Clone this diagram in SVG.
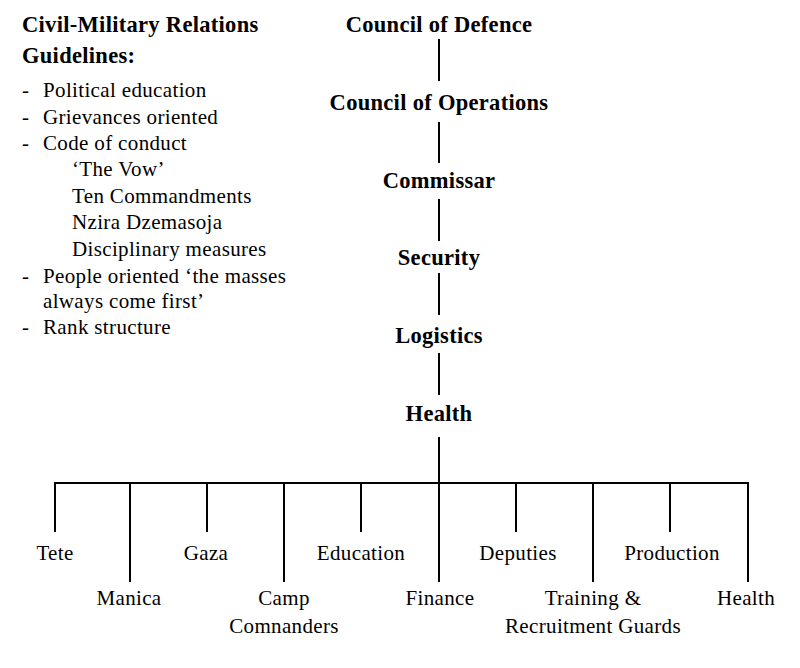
<svg xmlns="http://www.w3.org/2000/svg" width="800" height="668" viewBox="0 0 800 668">
<style>
.h{font-weight:bold;font-size:22.5px;letter-spacing:0.3px}
.t{font-size:21px;letter-spacing:0.35px}
.c{text-anchor:middle}
.ln{stroke:#000;stroke-width:2;fill:none}
</style>
<rect width="800" height="668" fill="#fff"/>
<g fill="#000">
<g id="guidelines">
<text class="h" font-family="Liberation Serif" x="22" y="32">Civil-Military Relations</text>
<text class="h" font-family="Liberation Serif" x="22" y="63">Guidelines:</text>
<text class="t" font-family="Liberation Serif" x="22" y="97">-</text><text class="t" font-family="Liberation Serif" x="43" y="97">Political education</text>
<text class="t" font-family="Liberation Serif" x="22" y="124">-</text><text class="t" font-family="Liberation Serif" x="43" y="124">Grievances oriented</text>
<text class="t" font-family="Liberation Serif" x="22" y="150">-</text><text class="t" font-family="Liberation Serif" x="43" y="150">Code of conduct</text>
<text class="t" font-family="Liberation Serif" x="72" y="176">‘The Vow’</text>
<text class="t" font-family="Liberation Serif" x="72" y="203">Ten Commandments</text>
<text class="t" font-family="Liberation Serif" x="72" y="229">Nzira Dzemasoja</text>
<text class="t" font-family="Liberation Serif" x="72" y="256">Disciplinary measures</text>
<text class="t" font-family="Liberation Serif" x="22" y="283">-</text><text class="t" font-family="Liberation Serif" x="43" y="283">People oriented ‘the masses</text>
<text class="t" font-family="Liberation Serif" x="43" y="308">always come first’</text>
<text class="t" font-family="Liberation Serif" x="22" y="334">-</text><text class="t" font-family="Liberation Serif" x="43" y="334">Rank structure</text>
</g>
<g id="connectors">
<line class="ln" x1="439" y1="39" x2="439" y2="81"/>
<line class="ln" x1="439" y1="122" x2="439" y2="163"/>
<line class="ln" x1="439" y1="199" x2="439" y2="241"/>
<line class="ln" x1="439" y1="273" x2="439" y2="315"/>
<line class="ln" x1="439" y1="353" x2="439" y2="395"/>
<line class="ln" x1="439" y1="437" x2="439" y2="483"/>
<line class="ln" x1="54" y1="483" x2="749" y2="483"/>
<line class="ln" x1="55" y1="482" x2="55" y2="532"/>
<line class="ln" x1="207" y1="482" x2="207" y2="532"/>
<line class="ln" x1="361" y1="482" x2="361" y2="532"/>
<line class="ln" x1="516" y1="482" x2="516" y2="532"/>
<line class="ln" x1="670" y1="482" x2="670" y2="532"/>
<line class="ln" x1="130" y1="482" x2="130" y2="582"/>
<line class="ln" x1="284" y1="482" x2="284" y2="582"/>
<line class="ln" x1="439" y1="482" x2="439" y2="582"/>
<line class="ln" x1="593" y1="482" x2="593" y2="582"/>
<line class="ln" x1="748" y1="482" x2="748" y2="582"/>
</g>
<g id="council-defence"><text class="h c" font-family="Liberation Serif" x="439" y="32">Council of Defence</text></g>
<g id="council-operations"><text class="h c" font-family="Liberation Serif" x="439" y="110">Council of Operations</text></g>
<g id="commissar"><text class="h c" font-family="Liberation Serif" x="439" y="188">Commissar</text></g>
<g id="security"><text class="h c" font-family="Liberation Serif" x="439" y="265">Security</text></g>
<g id="logistics"><text class="h c" font-family="Liberation Serif" x="439" y="343">Logistics</text></g>
<g id="health-top"><text class="h c" font-family="Liberation Serif" x="439" y="421">Health</text></g>
<g id="tete"><text class="t c" font-family="Liberation Serif" x="55" y="560">Tete</text></g>
<g id="gaza"><text class="t c" font-family="Liberation Serif" x="206" y="560">Gaza</text></g>
<g id="education"><text class="t c" font-family="Liberation Serif" x="361" y="560">Education</text></g>
<g id="deputies"><text class="t c" font-family="Liberation Serif" x="518" y="560">Deputies</text></g>
<g id="production"><text class="t c" font-family="Liberation Serif" x="672" y="560">Production</text></g>
<g id="manica"><text class="t c" font-family="Liberation Serif" x="129" y="605">Manica</text></g>
<g id="camp"><text class="t c" font-family="Liberation Serif" x="284" y="605">Camp</text><text class="t c" font-family="Liberation Serif" x="284" y="633">Comnanders</text></g>
<g id="finance"><text class="t c" font-family="Liberation Serif" x="440" y="605">Finance</text></g>
<g id="training"><text class="t c" font-family="Liberation Serif" x="593" y="605">Training &amp;</text><text class="t c" font-family="Liberation Serif" x="593" y="633">Recruitment Guards</text></g>
<g id="health-bottom"><text class="t c" font-family="Liberation Serif" x="746" y="605">Health</text></g>
</g>
</svg>
